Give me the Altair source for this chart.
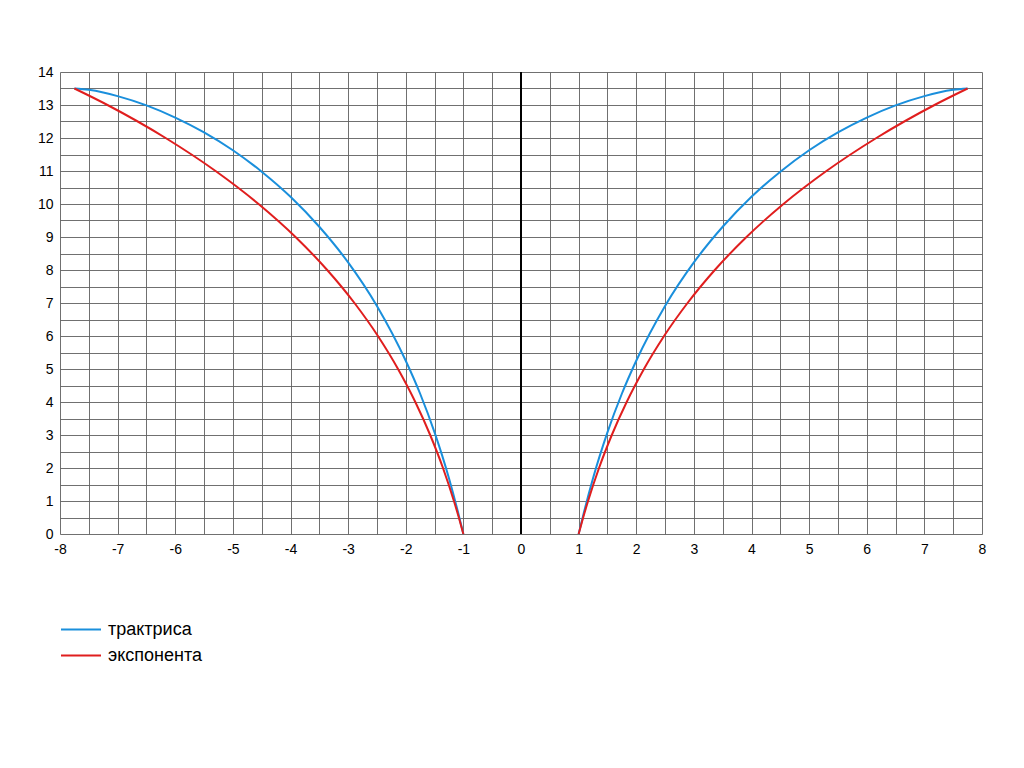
import altair as alt
import pandas as pd

# Curves (radius x, height y); each drawn mirrored on both sides
names = ["трактриса", "экспонента"]
colors = ["#1a8fdc", "#e01e1e"]

tractrix_r = [1.0, 1.1, 1.25, 1.5, 1.75, 2.0, 2.5, 3.0, 3.5, 4.0, 4.5, 5.0, 5.5, 6.0, 6.5, 7.0, 7.25, 7.5, 7.75]
tractrix_y = [0.0, 0.71, 1.69, 3.08, 4.25, 5.25, 6.91, 8.23, 9.31, 10.22, 10.98, 11.63, 12.17, 12.62, 12.99, 13.27, 13.38, 13.46, 13.5]

expo_r = [1.0, 1.079, 1.164, 1.354, 1.576, 1.834, 2.134, 2.483, 2.89, 3.363, 3.913, 4.554, 5.30, 6.167, 7.176, 7.75]
expo_y = [0.0, 0.5, 1, 2, 3, 4, 5, 6, 7, 8, 9, 10, 11, 12, 13, 13.5]

x_grid = [v / 2 for v in range(-16, 17)]
y_grid = [v / 2 for v in range(0, 29)]
zero_line = [0]

rows = []
for name, rs, ys in [(names[0], tractrix_r, tractrix_y), (names[1], expo_r, expo_y)]:
    for side, sgn in [("L", -1), ("R", 1)]:
        for r, y in zip(rs, ys):
            rows.append({"curve": name, "side": side, "x": sgn * r, "y": y})
df = pd.DataFrame(rows)

FONT = "Liberation Sans"
lbl = "datum.value % 1 == 0 ? toString(datum.value) : ''"

x_axis = alt.Axis(values=x_grid, labelExpr=lbl, title=None, grid=True,
                  gridColor="#606060", gridWidth=1, gridOpacity=0.9, ticks=False,
                  domain=False, labelFontSize=14, labelPadding=8, labelFont=FONT,
                  labelColor="#000", labelFlush=False, labelOverlap=False)
y_axis = alt.Axis(values=y_grid, labelExpr=lbl, title=None, grid=True,
                  gridColor="#606060", gridWidth=1, gridOpacity=0.9, ticks=False,
                  domain=False, labelFontSize=14, labelPadding=7, labelFont=FONT,
                  labelColor="#000", labelFlush=False, labelOverlap=False)
x_scale = alt.Scale(domain=[-8, 8], nice=False, zero=False)
y_scale = alt.Scale(domain=[0, 14], nice=False)

curves = alt.Chart(df).mark_line(strokeWidth=2, interpolate="monotone").encode(
    x=alt.X("x:Q", scale=x_scale, axis=x_axis),
    y=alt.Y("y:Q", scale=y_scale, axis=y_axis),
    color=alt.Color("curve:N", scale=alt.Scale(domain=names, range=colors),
                    legend=alt.Legend(title=None, orient="none", legendX=0, legendY=545,
                                      symbolType="stroke", symbolSize=1600,
                                      symbolStrokeWidth=2, labelFontSize=18,
                                      labelFont=FONT, labelColor="#000",
                                      clipHeight=25, rowPadding=1, padding=0,
                                      labelOffset=6)),
    detail="side:N",
)

zero = alt.Chart(pd.DataFrame({"x": zero_line})).mark_rule(color="black", strokeWidth=2).encode(
    x=alt.X("x:Q", scale=x_scale, axis=x_axis)
)

chart = alt.layer(curves, zero).properties(
    width=922, height=462,
    padding={"left": 52, "top": 64, "right": 30, "bottom": 220},
    autosize=alt.AutoSizeParams(type="none"),
).configure_view(stroke=None)

chart.save("out.html", embed_options={"renderer": "svg", "actions": False})
